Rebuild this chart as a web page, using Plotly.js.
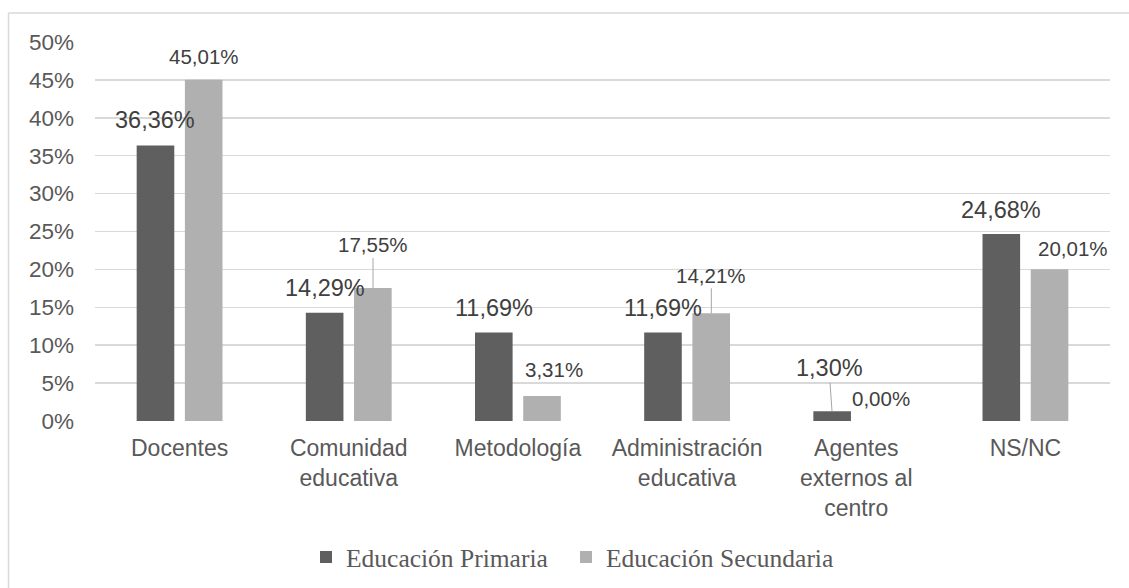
<!DOCTYPE html>
<html>
<head>
<meta charset="utf-8">
<script src="https://cdn.plot.ly/plotly-3.0.1.min.js"></script>
<style>
html,body{margin:0;padding:0;background:#fff;}
#chart{width:1129px;height:588px;}
</style>
</head>
<body>
<div id="chart"></div>
<script>
// ---- data ----
const categories = ["Docentes", "Comunidad<br>educativa", "Metodología", "Administración<br>educativa", "Agentes<br>externos al<br>centro", "NS/NC"];
const primaria = [36.36, 14.29, 11.69, 11.69, 1.30, 24.68];
const secundaria = [45.01, 17.55, 3.31, 14.21, 0.00, 20.01];
const seriesNames = ["Educación Primaria", "Educación Secundaria"];
const yTickVals = [0, 5, 10, 15, 20, 25, 30, 35, 40, 45, 50];
const yTickText = yTickVals.map(v => v + '%');

// ---- label placement (style) ----
const BAR_OFF = 24.25;
const primPlace = [
  {dx: 0, dy: 25, lead: false}, {dx: 0, dy: 25, lead: false}, {dx: 0, dy: 24, lead: false},
  {dx: 0, dy: 24, lead: false}, {dx: -3, dy: 43, lead: true}, {dx: 0, dy: 24, lead: false}
];
const secPlace = [
  {dx: 0, dy: 23, lead: false}, {dx: 0, dy: 43, lead: true}, {dx: 12, dy: 26, lead: false},
  {dx: 0, dy: 38, lead: true}, {dx: 0, dy: 23, lead: false}, {dx: 23, dy: 21, lead: false}
];

function fmt(v) { return v.toFixed(2).replace('.', ',') + '%'; }

const annotations = [];
function addLabels(vals, place, sign, size) {
  vals.forEach((v, i) => {
    const p = place[i];
    const a = {
      x: categories[i], y: v, xref: 'x', yref: 'y',
      text: fmt(v),
      font: {family: 'Liberation Sans, Arial, sans-serif', size: size, color: '#404040'},
      xshift: sign * BAR_OFF
    };
    if (p.lead) {
      a.showarrow = true; a.arrowhead = 0; a.arrowwidth = 1; a.arrowcolor = '#a6a6a6';
      a.ax = p.dx; a.ay = -p.dy; a.axref = 'pixel'; a.ayref = 'pixel';
      a.standoff = 0; a.startstandoff = 0;
    } else {
      a.showarrow = false; a.xshift = sign * BAR_OFF + p.dx; a.yshift = p.dy;
    }
    annotations.push(a);
  });
}
addLabels(primaria, primPlace, -1, 23.5);
addLabels(secundaria, secPlace, 1, 20.5);

const traces = [
  {type: 'bar', name: seriesNames[0], x: categories, y: primaria,
   marker: {color: '#5f5f5f'}, hoverinfo: 'none', legend: 'legend'},
  {type: 'bar', name: seriesNames[1], x: categories, y: secundaria,
   marker: {color: '#b0b0b0'}, hoverinfo: 'none', legend: 'legend2'}
];

const ml = 95, mr = 19, mt = 41.7, mb = 167.3;
const W = 1129, H = 588;
const pw = W - ml - mr, ph = H - mt - mb;
const px2x = p => (p - ml) / pw;
const px2y = p => (H - mb - p) / ph;

const legendBase = {
  orientation: 'h', xanchor: 'left', y: px2y(557), yanchor: 'middle',
  font: {family: 'Liberation Serif, Times New Roman, serif', size: 25.5, color: '#595959'},
  itemwidth: 30, itemclick: false, itemdoubleclick: false, bgcolor: 'rgba(0,0,0,0)'
};

const layout = {
  width: W, height: H,
  margin: {l: ml, r: mr, t: mt, b: mb, pad: 0, autoexpand: false},
  paper_bgcolor: '#ffffff', plot_bgcolor: '#ffffff',
  barmode: 'group', bargap: 0.43, bargroupgap: 0.22,
  font: {family: 'Liberation Sans, Arial, sans-serif', color: '#595959'},
  showlegend: true,
  legend: Object.assign({}, legendBase, {x: px2x(306)}),
  legend2: Object.assign({}, legendBase, {x: px2x(566)}),
  xaxis: {
    type: 'category', showgrid: false, zeroline: false, showline: false,
    ticks: '', tickfont: {size: 23, color: '#595959'}, ticklabelstandoff: 11
  },
  yaxis: {
    range: [0, 50], tickvals: yTickVals, ticktext: yTickText,
    showgrid: true, gridcolor: '#d9d9d9', gridwidth: 1.5,
    zeroline: false, showline: false, ticks: '',
    tickfont: {size: 22.5, color: '#595959'}, ticklabelstandoff: 20
  },
  shapes: [
    {type: 'line', xref: 'paper', yref: 'paper', x0: px2x(8.5), x1: px2x(1135), y0: px2y(12.7), y1: px2y(12.7),
     line: {color: '#d9d9d9', width: 1.5}},
    {type: 'line', xref: 'paper', yref: 'paper', x0: px2x(8.5), x1: px2x(8.5), y0: px2y(12.7), y1: px2y(600),
     line: {color: '#d9d9d9', width: 1.5}}
  ],
  annotations: annotations
};

Plotly.newPlot('chart', traces, layout, {displayModeBar: false, staticPlot: true});
</script>
</body>
</html>
